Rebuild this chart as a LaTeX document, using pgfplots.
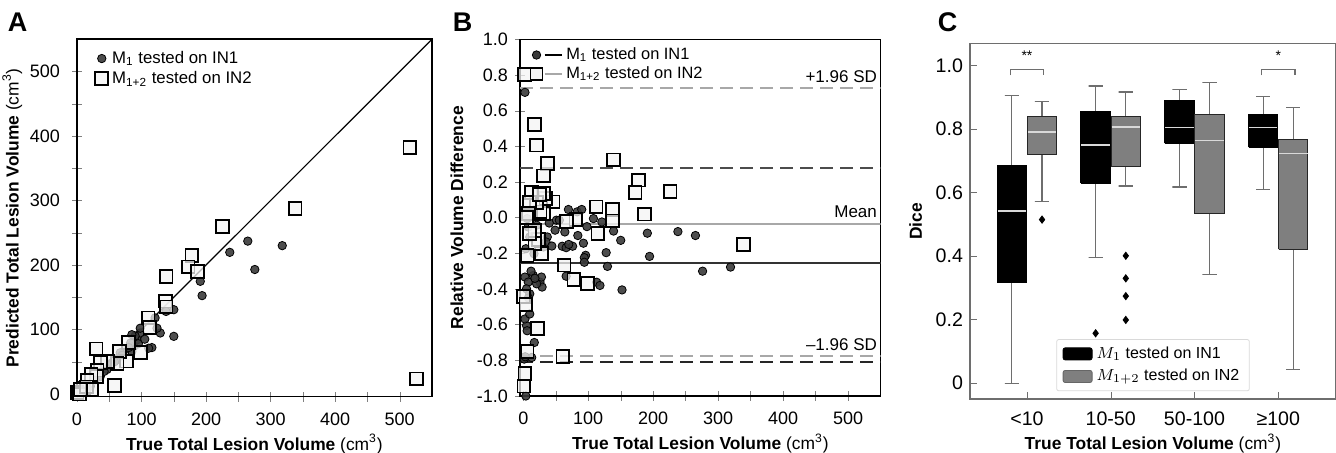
\documentclass[border=0pt]{standalone}
\usepackage{fontspec}
\setmainfont{Liberation Sans}
\usepackage{pgfplots}
\pgfplotsset{compat=1.18}
\definecolor{dotfill}{HTML}{3A3A3A}
\definecolor{sqfill}{HTML}{F4F4F4}
\definecolor{boxgray}{HTML}{7F7F7F}
\definecolor{linegray}{HTML}{A8A8A8}
\definecolor{wgray}{HTML}{6E6E6E}
\definecolor{medline}{HTML}{D9D9D9}

\pgfplotsset{
  panel/.style={scale only axis, tick pos=left,
    tick label style={font=\fontsize{9}{10}\selectfont},
    label style={font=\fontsize{8.7}{10}\selectfont},
    /pgf/number format/assume math mode=true,
    axis line style={line width=0.7pt}},
  dot/.style={only marks, mark=*, mark size=2.1pt,
    mark options={fill=dotfill, draw=black, line width=0.4pt, fill opacity=0.9}},
  sq/.style={only marks, mark=square*, mark size=3.2pt,
    mark options={fill=sqfill, draw=black, line width=0.9pt, fill opacity=0.75}},
  ref/.style={line width=1pt, dash pattern=on 6.5pt off 3.5pt},
  blk/.style={fill=black, draw=black, line width=0.5pt},
  gry/.style={fill=boxgray, draw=black!85, line width=0.5pt},
  wsk/.style={wgray, line width=0.6pt},
  med/.style={medline, line width=0.8pt},
  outl/.style={only marks, mark=diamond*, mark size=1.8pt, mark options={fill=black, draw=black}},
}

\begin{document}
\begin{tikzpicture}
\useasboundingbox (0,0) rectangle (668pt,226.5pt);

% ---------------- panel A
\begin{axis}[panel, at={(38.5pt,28.2pt)}, anchor=south west,
  width=177.5pt, height=178.7pt,
  xmin=0, xmax=550, ymin=-4, ymax=550,
  xtick={0,100,...,500}, ytick={0,100,...,500}, minor x tick num=1, minor y tick num=1,
  tick align=center, major tick length=5pt, minor tick length=5pt,
  yticklabel style={xshift=-2.5pt}, xticklabel style={yshift=-2pt},
  xlabel={\textbf{True Total Lesion Volume} (cm\textsuperscript{3})},
  ylabel={\textbf{Predicted Total Lesion Volume} (cm\textsuperscript{3})},
  xlabel style={yshift=2.5pt}, ylabel style={yshift=-3pt},
  legend style={draw=none, fill=none, at={(0.045,0.985)}, anchor=north west,
    font=\fontsize{8.4}{9}\selectfont, row sep=-1.5pt, inner sep=1pt},
  legend cell align=left,
]
\addplot[black, line width=0.6pt, forget plot] coordinates {(0,0) (550,550)};
\addplot[dot] coordinates {
(318,230)(275.5,193)(264.6,237)(236.7,219.6)(191,174.7)(193.8,152.5)(150,130.7)(150,89.4)
(138,128)(129,94.6)(124,102)(121,118)(116,72)(111,71)(98,94.6)(98,102)(93,84)(90,90)
(88,74)(85,66)(85,92)(83,79)(75,69)(67,64)(62,53)(54,48)(46.5,38)(36,27)(28,22)
(20.7,12)(13,6.7)(7.7,1.5)(95,78)(80,72)(70,60)(105,85)(42,35)(58,50)};
\addplot[sq] coordinates {
(515.8,382.4)(526,23.3)(338,288)(225.8,260)(178,214.5)(172,197)(187,190)(138,182)
(137,144)(138,135)(110,118)(113,103)(98,64)(80,80)(77,51)(66,66)(62,47)(58,13)(47,50)
(29.5,70)(36,49)(31,37)(30,27)(21.7,30)(15.5,21)(10.3,9)(0,2)(4,0)(15,11)(23,7)(5,7)};
\legend{M\textsubscript{1} tested on IN1, M\textsubscript{1+2} tested on IN2}
\end{axis}

% ---------------- panel B
\begin{axis}[panel, at={(260pt,28.5pt)}, anchor=south west,
  width=180.3pt, height=178.3pt,
  xmin=-5, xmax=550, ymin=-1, ymax=1,
  xtick={0,100,...,500}, minor x tick num=1,
  ytick={-1,-0.8,-0.6,-0.4,-0.2,0,0.2,0.4,0.6,0.8,1},
  yticklabels={-1.0,-0.8,-0.6,-0.4,-0.2,0.0,0.2,0.4,0.6,0.8,1.0},
  tick align=center, major tick length=5pt, minor tick length=5pt,
  xticklabel style={yshift=-2pt},
  xlabel={\textbf{True Total Lesion Volume} (cm\textsuperscript{3})},
  xlabel style={yshift=2.5pt},
  ylabel={\textbf{Relative Volume Difference}},
  legend style={draw=none, fill=none, at={(0.02,0.995)}, anchor=north west,
    font=\fontsize{8.2}{9}\selectfont, row sep=-2pt, inner sep=1pt},
  legend cell align=left,
]
\addplot[linegray, ref, forget plot] coordinates {(-5,0.728) (550,0.728)};
\addplot[black!70, ref, forget plot] coordinates {(-5,0.281) (550,0.281)};
\addplot[linegray, line width=1pt, forget plot] coordinates {(-5,-0.033) (550,-0.033)};
\addplot[black!80, line width=1pt, forget plot] coordinates {(-5,-0.253) (550,-0.253)};
\addplot[linegray, ref, forget plot] coordinates {(-5,-0.775) (550,-0.775)};
\addplot[black!85, ref, forget plot] coordinates {(-5,-0.807) (550,-0.807)};
\addplot[dot, forget plot] coordinates {
(2.6,0.703)(4,-1.0)(1.5,-0.793)(13,-0.784)(17,-0.70)(5,-0.605)(2.6,-0.568)(6,-0.634)(10,-0.54)
(2.6,-0.333)(7.7,-0.361)(5,-0.399)(10,-0.427)(15.4,-0.324)(25.7,-0.361)(28,-0.333)(29,-0.389)
(20.6,-0.371)(16.5,-0.202)(4,-0.174)(7.7,-0.052)(10,-0.108)(6,-0.005)(20.6,-0.042)(31,-0.164)
(37,-0.108)(35,-0.136)(44,-0.159)(49,-0.07)(51,-0.014)(60,-0.16)(64,-0.08)(66,-0.168)(69.5,0.046)
(76,-0.16)(84,-0.10)(83,0.033)(90,0.046)(92.6,-0.143)(96,-0.211)(94,-0.224)(94,-0.25)(98,-0.05)
(66,-0.328)(108,-0.005)(121,-0.024)(127.6,-0.196)(129.6,-0.273)(139,-0.075)(150,-0.127)(152,-0.405)
(113,-0.362)(118,-0.38)(191,-0.087)(194.4,-0.217)(238,-0.078)(265,-0.10)(276,-0.30)(319,-0.277)
(55.5,-0.014)(40,-0.03)(12,-0.3)(8,-0.45)(3,-0.78)(18,-0.34)(70,-0.15)};
\addplot[sq, forget plot] coordinates {
(1.5,0.803)(17,0.521)(20.6,0.407)(37,0.305)(31,0.234)(139,0.324)(177.5,0.211)(172,0.14)
(226,0.147)(187,0.02)(137,0.047)(137,-0.018)(112,0.061)(115,-0.09)(81,-0.01)(67,-0.022)
(46,0.089)(35,0.108)(31,0.136)(31,0.023)(26,0.033)(20.6,0.084)(12.9,0.14)(9.3,0.084)(7.7,0.023)
(23,-0.123)(28,-0.202)(18,-0.146)(6,-0.211)(63,-0.266)(78,-0.348)(99,-0.369)(338.6,-0.149)
(0,-0.442)(4,-0.487)(22,-0.621)(6,-0.75)(61,-0.78)(2.6,-0.874)(1,-0.944)(18,-0.07)(10,-0.09)
(25,0.13)(5,0.0)};
\addlegendimage{legend image code/.code={
  \fill[dotfill, draw=black, line width=0.4pt] (0pt,0pt) circle (2.1pt);
  \draw[black, line width=0.8pt] (4pt,0pt) -- (12.5pt,0pt);}}
\addlegendimage{legend image code/.code={
  \draw[fill=sqfill, draw=black, line width=0.9pt] (-3pt,-3pt) rectangle (3pt,3pt);
  \draw[linegray, line width=0.8pt] (4pt,0pt) -- (12.5pt,0pt);}}
\legend{M\textsubscript{1} tested on IN1, M\textsubscript{1+2} tested on IN2}
\node[anchor=south east, font=\fontsize{8.5}{9}\selectfont, inner sep=1pt] at (axis cs:548,0.745) {+1.96 SD};
\node[anchor=south east, font=\fontsize{8.5}{9}\selectfont, inner sep=1pt] at (axis cs:548,-0.015) {Mean};
\node[anchor=south east, font=\fontsize{8.5}{9}\selectfont, inner sep=1pt] at (axis cs:548,-0.76) {\textendash1.96 SD};
\end{axis}

% ---------------- panel C
\begin{axis}[panel, at={(485pt,27pt)}, anchor=south west,
  width=183pt, height=177.8pt,
  xmin=-0.68, xmax=3.69, ymin=-0.05, ymax=1.07,
  xtick={0,1,2,3}, xticklabels={<10,10-50,50-100,≥100},
  ytick={0,0.2,0.4,0.6,0.8,1}, yticklabels={0,0.2,0.4,0.6,0.8,1.0},
  tick label style={font=\fontsize{9.8}{11}\selectfont},
  xticklabel style={yshift=-3pt},
  major tick length=3.5pt, tick style={wgray},
  axis line style={wgray, line width=0.7pt},
  xlabel={\textbf{True Total Lesion Volume} (cm\textsuperscript{3})},
  xlabel style={yshift=3pt},
  ylabel={\textbf{Dice}},
  legend style={draw=black!15, rounded corners=1pt, fill=white, at={(0.5,0.022)}, anchor=south,
    font=\fontsize{8}{9}\selectfont, row sep=0pt, inner xsep=3pt, inner ysep=1.5pt},
  legend cell align=left,
]
% whiskers: (pos,Q3)-(pos,upper) with cap, (pos,Q1)-(pos,lower) with cap
% <10, M1 : 0 / 0.317 / 0.542 / 0.684 / 0.906
\addplot[wsk, forget plot] coordinates {(-0.18,0.684)(-0.18,0.906)(-0.265,0.906)(-0.095,0.906)};
\addplot[wsk, forget plot] coordinates {(-0.18,0.317)(-0.18,0)(-0.265,0)(-0.095,0)};
\addplot[blk, forget plot] coordinates {(-0.355,0.317)(-0.005,0.317)(-0.005,0.684)(-0.355,0.684)(-0.355,0.317)};
\addplot[med, forget plot] coordinates {(-0.35,0.542)(-0.01,0.542)};
% <10, M1+2 : 0.572 / 0.72 / 0.79 / 0.841 / 0.887
\addplot[wsk, forget plot] coordinates {(0.18,0.841)(0.18,0.887)(0.095,0.887)(0.265,0.887)};
\addplot[wsk, forget plot] coordinates {(0.18,0.72)(0.18,0.572)(0.095,0.572)(0.265,0.572)};
\addplot[gry, forget plot] coordinates {(0.005,0.72)(0.355,0.72)(0.355,0.841)(0.005,0.841)(0.005,0.72)};
\addplot[med, forget plot] coordinates {(0.01,0.79)(0.35,0.79)};
\addplot[outl, forget plot] coordinates {(0.18,0.515)};
% 10-50, M1 : 0.396 / 0.63 / 0.75 / 0.854 / 0.936
\addplot[wsk, forget plot] coordinates {(0.82,0.854)(0.82,0.936)(0.735,0.936)(0.905,0.936)};
\addplot[wsk, forget plot] coordinates {(0.82,0.63)(0.82,0.396)(0.735,0.396)(0.905,0.396)};
\addplot[blk, forget plot] coordinates {(0.645,0.63)(0.995,0.63)(0.995,0.854)(0.645,0.854)(0.645,0.63)};
\addplot[med, forget plot] coordinates {(0.65,0.75)(0.99,0.75)};
\addplot[outl, forget plot] coordinates {(0.82,0.157)};
% 10-50, M1+2 : 0.621 / 0.683 / 0.806 / 0.841 / 0.917
\addplot[wsk, forget plot] coordinates {(1.18,0.841)(1.18,0.917)(1.095,0.917)(1.265,0.917)};
\addplot[wsk, forget plot] coordinates {(1.18,0.683)(1.18,0.621)(1.095,0.621)(1.265,0.621)};
\addplot[gry, forget plot] coordinates {(1.005,0.683)(1.355,0.683)(1.355,0.841)(1.005,0.841)(1.005,0.683)};
\addplot[med, forget plot] coordinates {(1.01,0.806)(1.35,0.806)};
\addplot[outl, forget plot] coordinates {(1.18,0.401)(1.18,0.330)(1.18,0.274)(1.18,0.199)};
% 50-100, M1 : 0.618 / 0.756 / 0.805 / 0.890 / 0.925
\addplot[wsk, forget plot] coordinates {(1.82,0.89)(1.82,0.925)(1.735,0.925)(1.905,0.925)};
\addplot[wsk, forget plot] coordinates {(1.82,0.756)(1.82,0.618)(1.735,0.618)(1.905,0.618)};
\addplot[blk, forget plot] coordinates {(1.645,0.756)(1.995,0.756)(1.995,0.89)(1.645,0.89)(1.645,0.756)};
\addplot[med, forget plot] coordinates {(1.65,0.805)(1.99,0.805)};
% 50-100, M1+2 : 0.342 / 0.534 / 0.764 / 0.845 / 0.947
\addplot[wsk, forget plot] coordinates {(2.18,0.845)(2.18,0.947)(2.095,0.947)(2.265,0.947)};
\addplot[wsk, forget plot] coordinates {(2.18,0.534)(2.18,0.342)(2.095,0.342)(2.265,0.342)};
\addplot[gry, forget plot] coordinates {(2.005,0.534)(2.355,0.534)(2.355,0.845)(2.005,0.845)(2.005,0.534)};
\addplot[med, forget plot] coordinates {(2.01,0.764)(2.35,0.764)};
% >=100, M1 : 0.610 / 0.743 / 0.805 / 0.846 / 0.903
\addplot[wsk, forget plot] coordinates {(2.82,0.846)(2.82,0.903)(2.735,0.903)(2.905,0.903)};
\addplot[wsk, forget plot] coordinates {(2.82,0.743)(2.82,0.61)(2.735,0.61)(2.905,0.61)};
\addplot[blk, forget plot] coordinates {(2.645,0.743)(2.995,0.743)(2.995,0.846)(2.645,0.846)(2.645,0.743)};
\addplot[med, forget plot] coordinates {(2.65,0.805)(2.99,0.805)};
% >=100, M1+2 : 0.044 / 0.421 / 0.723 / 0.766 / 0.867
\addplot[wsk, forget plot] coordinates {(3.18,0.766)(3.18,0.867)(3.095,0.867)(3.265,0.867)};
\addplot[wsk, forget plot] coordinates {(3.18,0.421)(3.18,0.044)(3.095,0.044)(3.265,0.044)};
\addplot[gry, forget plot] coordinates {(3.005,0.421)(3.355,0.421)(3.355,0.766)(3.005,0.766)(3.005,0.421)};
\addplot[med, forget plot] coordinates {(3.01,0.723)(3.35,0.723)};
% significance brackets
\addplot[wsk, forget plot] coordinates {(-0.2,0.969) (-0.2,0.988) (0.2,0.988) (0.2,0.969)};
\addplot[wsk, forget plot] coordinates {(2.8,0.969) (2.8,0.988) (3.2,0.988) (3.2,0.969)};
\node[font=\fontsize{7}{8}\selectfont] at (axis cs:0,1.03) {**};
\node[font=\fontsize{7}{8}\selectfont] at (axis cs:3,1.03) {*};
\addlegendimage{legend image code/.code={\fill[black] (0pt,-3pt) rectangle (14.5pt,3pt);}}
\addlegendimage{legend image code/.code={\fill[boxgray, draw=black!60] (0pt,-3pt) rectangle (14.5pt,3pt);}}
\legend{$M_1$ tested on IN1, $M_{1+2}$ tested on IN2}
\end{axis}

\node[font=\fontsize{13.5}{14}\selectfont\bfseries] at (8.75pt,215.25pt) {A};
\node[font=\fontsize{13.5}{14}\selectfont\bfseries] at (231.25pt,215.25pt) {B};
\node[font=\fontsize{13.5}{14}\selectfont\bfseries] at (473.75pt,215.25pt) {C};
\end{tikzpicture}
\end{document}
